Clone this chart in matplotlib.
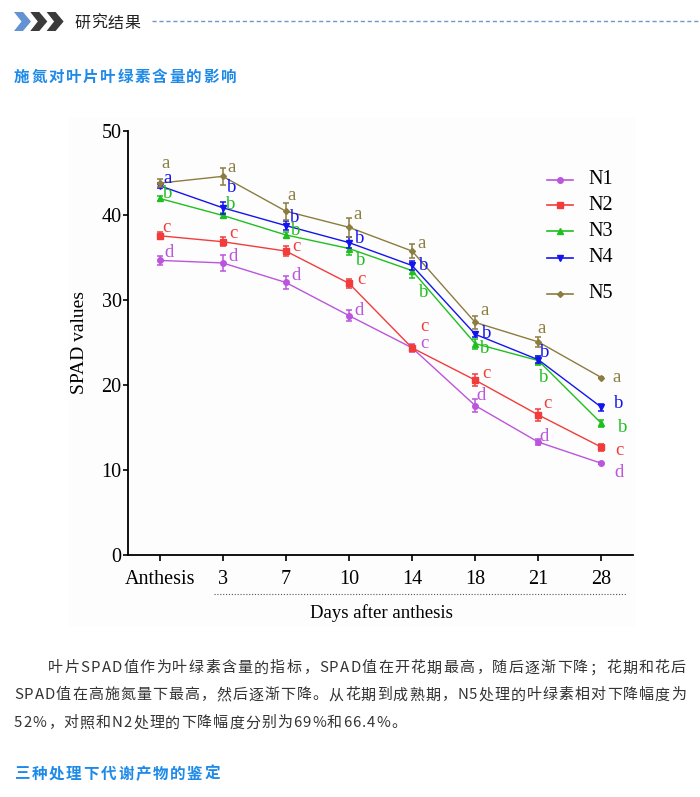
import matplotlib
matplotlib.use('Agg')
import matplotlib.pyplot as plt
from matplotlib.lines import Line2D
from matplotlib.patches import Polygon, Rectangle
from matplotlib.font_manager import FontProperties

# ---------------- data ----------------
categories = ['Anthesis', '3', '7', '10', '14', '18', '21', '28']
series_names = ['N1', 'N2', 'N3', 'N4', 'N5']

n1 = [34.7, 34.4, 32.1, 28.2, 24.4, 17.6, 13.3, 10.8]
n2 = [37.6, 36.9, 35.8, 32.0, 24.4, 20.6, 16.5, 12.7]
n3 = [42.0, 40.0, 37.7, 36.1, 33.5, 24.9, 22.9, 15.5]
n4 = [43.5, 40.9, 38.8, 36.8, 34.1, 26.0, 23.0, 17.4]
n5 = [43.8, 44.6, 40.5, 38.6, 35.8, 27.4, 25.1, 20.9]

n1_err = [0.5, 0.9, 0.8, 0.6, 0.5, 0.8, 0.4, 0.1]
n2_err = [0.4, 0.5, 0.6, 0.5, 0.3, 0.7, 0.7, 0.4]
n3_err = [0.3, 0.3, 0.4, 0.8, 0.9, 0.6, 0.5, 0.4]
n4_err = [0.3, 0.7, 0.5, 0.6, 0.5, 0.3, 0.4, 0.4]
n5_err = [0.5, 1.0, 1.0, 1.1, 0.8, 0.8, 0.6, 0.1]

n1_letters = ['d', 'd', 'd', 'd', 'c', 'd', 'd', 'd']
n2_letters = ['c', 'c', 'c', 'c', 'c', 'c', 'c', 'c']
n3_letters = ['b', 'b', 'b', 'b', 'b', 'b', 'b', 'b']
n4_letters = ['a', 'b', 'b', 'b', 'b', 'b', 'b', 'b']
n5_letters = ['a', 'a', 'a', 'a', 'a', 'a', 'a', 'a']

y_ticks = [0, 10, 20, 30, 40, 50]

heading1 = '研究结果'
heading2 = '施氮对叶片叶绿素含量的影响'
heading3 = '三种处理下代谢产物的鉴定'
para_lines = [
    '叶片SPAD值作为叶绿素含量的指标，SPAD值在开花期最高，随后逐渐下降；花期和花后',
    'SPAD值在高施氮量下最高，然后逐渐下降。从花期到成熟期，N5处理的叶绿素相对下降幅度为',
    '52%，对照和N2处理的下降幅度分别为69%和66.4%。',
]

# ---------------- styles / layout ----------------
values = [n1, n2, n3, n4, n5]
errors = [n1_err, n2_err, n3_err, n4_err, n5_err]
letters = [n1_letters, n2_letters, n3_letters, n4_letters, n5_letters]
colors = ['#bb55dd', '#f23c3c', '#1fbf1f', '#1414ee', '#8c7c40']
markers = ['o', 's', '^', 'v', 'D']
msizes = [4, 5, 4, 4, 3]
# label offsets in pixels (dx, dy up)
letter_offsets = [
    [(9, 8), (10, 6), (10, 7), (10, 5), (12, 4), (6, 10), (6, 6), (18, -9)],
    [(7, 8), (11, 8), (11, 5), (12, 4), (12, 21), (11, 7), (9, 11), (18, -3)],
    [(8, 5), (8, 11), (10, 4), (12, -12), (12, -22), (10, -5), (5, -17), (21, -4)],
    [(8, 7), (9, 20), (9, 8), (11, 4), (12, 0), (12, 1), (6, 7), (17, 4)],
    [(6, 20), (9, 9), (6, 16), (9, 13), (9, 8), (9, 12), (3, 13), (15, 0)],
]
legend_y = [180, 205, 231, 258, 294]

W, H = 700, 797
SERIF = 'Liberation Serif'
CJK = ['Noto Sans CJK SC', 'DejaVu Sans']

fig = plt.figure(figsize=(W / 100, H / 100), dpi=100)
fig.patch.set_facecolor('white')


def fx(x):
    return x / W


def fy(y):
    return 1 - y / H


# faint chart image background
fig.add_artist(Rectangle((fx(68), fy(626)), (636 - 68) / W, (626 - 118) / H,
                         transform=fig.transFigure, facecolor='#fdfdfd',
                         edgecolor='none', zorder=0))

ax = fig.add_axes([fx(128), fy(555), (633 - 128) / W, (555 - 130.5) / H])
ax.set_facecolor('none')
xs = list(range(len(categories)))

for i in range(len(series_names)):
    ax.errorbar(xs, values[i], yerr=errors[i], color=colors[i], marker=markers[i],
                markersize=msizes[i], linewidth=1.0, elinewidth=1.1, capsize=2.5,
                capthick=1.1, zorder=3 + i, clip_on=False)
    for j, lab in enumerate(letters[i]):
        ax.annotate(lab, (xs[j], values[i][j]), xytext=letter_offsets[i][j],
                    textcoords='offset pixels', ha='center', va='center',
                    color=colors[i], fontsize=13.5, family=SERIF, zorder=10)

ax.set_xlim(-0.5, 7.5)
ax.set_ylim(0, 50)
ax.set_xticks(xs)
ax.set_xticklabels(categories)
ax.set_yticks(y_ticks)
for s in ['top', 'right']:
    ax.spines[s].set_visible(False)
for s in ['left', 'bottom']:
    ax.spines[s].set_linewidth(1.3)
ax.tick_params(axis='x', direction='out', length=4, width=1.2, pad=7, labelsize=14.5)
ax.tick_params(axis='y', direction='out', length=3.5, width=1.2, pad=1, labelsize=14.5)
for t in ax.get_xticklabels() + ax.get_yticklabels():
    t.set_family(SERIF)

fig.text(fx(80), fy(342), 'SPAD values', rotation=90, ha='center', va='center',
         fontsize=14, family=SERIF)
fig.text(fx(381), fy(613), 'Days after anthesis', ha='center', va='center',
         fontsize=13.5, family=SERIF)
fig.add_artist(Line2D([fx(214), fx(626)], [fy(594), fy(594)], transform=fig.transFigure,
                      color='#555555', linewidth=0.8, linestyle=(0, (1, 1.6))))

# legend
for i, name in enumerate(series_names):
    y = legend_y[i]
    fig.add_artist(Line2D([fx(547), fx(573)], [fy(y), fy(y)], transform=fig.transFigure,
                          color=colors[i], linewidth=1.2))
    fig.add_artist(Line2D([fx(560)], [fy(y)], transform=fig.transFigure,
                          color=colors[i], marker=markers[i], markersize=msizes[i],
                          linestyle='none'))
    fig.text(fx(588), fy(y), name, ha='left', va='center', fontsize=14.5, family=SERIF)

# ---------------- page text ----------------
renderer = fig.canvas.get_renderer()


def spaced_text(s, x0, yc, size, color, weight='normal', target=None, spacing=None):
    prop = FontProperties(family=CJK, size=size, weight=weight)
    widths = [renderer.get_text_width_height_descent(c, prop, ismath=False)[0] for c in s]
    if target is not None:
        spacing = (target - sum(widths)) / (len(s) - 1)
    x = x0
    base = yc + size * 100 / 72 * 0.36
    for c, w in zip(s, widths):
        fig.text(fx(x), fy(base), c, ha='left', va='baseline', color=color,
                 fontproperties=prop)
        x += w + spacing
    return spacing


# header chevrons
for k, col in enumerate(['#6393d3', '#3b3b3b', '#3b3b3b']):
    x0 = 14 + 16.3 * k
    pts = [(x0, 12), (x0 + 9, 12), (x0 + 17, 21.5), (x0 + 9, 31), (x0, 31), (x0 + 7.5, 21.5)]
    fig.add_artist(Polygon([(fx(a), fy(b)) for a, b in pts], closed=True,
                           transform=fig.transFigure, facecolor=col, edgecolor='none'))

spaced_text(heading1, 74, 22, 11.5, '#222222', target=66)
fig.add_artist(Line2D([fx(152), fx(700)], [fy(21), fy(21)], transform=fig.transFigure,
                      color='#6f97cc', linewidth=1.0, linestyle=(0, (3, 2))))

spaced_text(heading2, 14, 76, 11.2, '#1e8ae8', weight='bold', target=222)

spaced_text(para_lines[0], 48, 667, 10.8, '#333333', target=638)
sp = spaced_text(para_lines[1], 14, 694, 10.8, '#333333', target=672)
spaced_text(para_lines[2], 14, 722, 10.8, '#333333', spacing=sp)

spaced_text(heading3, 14, 773, 11.2, '#1e8ae8', weight='bold', target=206)

fig.savefig('out.png', dpi=100, facecolor='white')
